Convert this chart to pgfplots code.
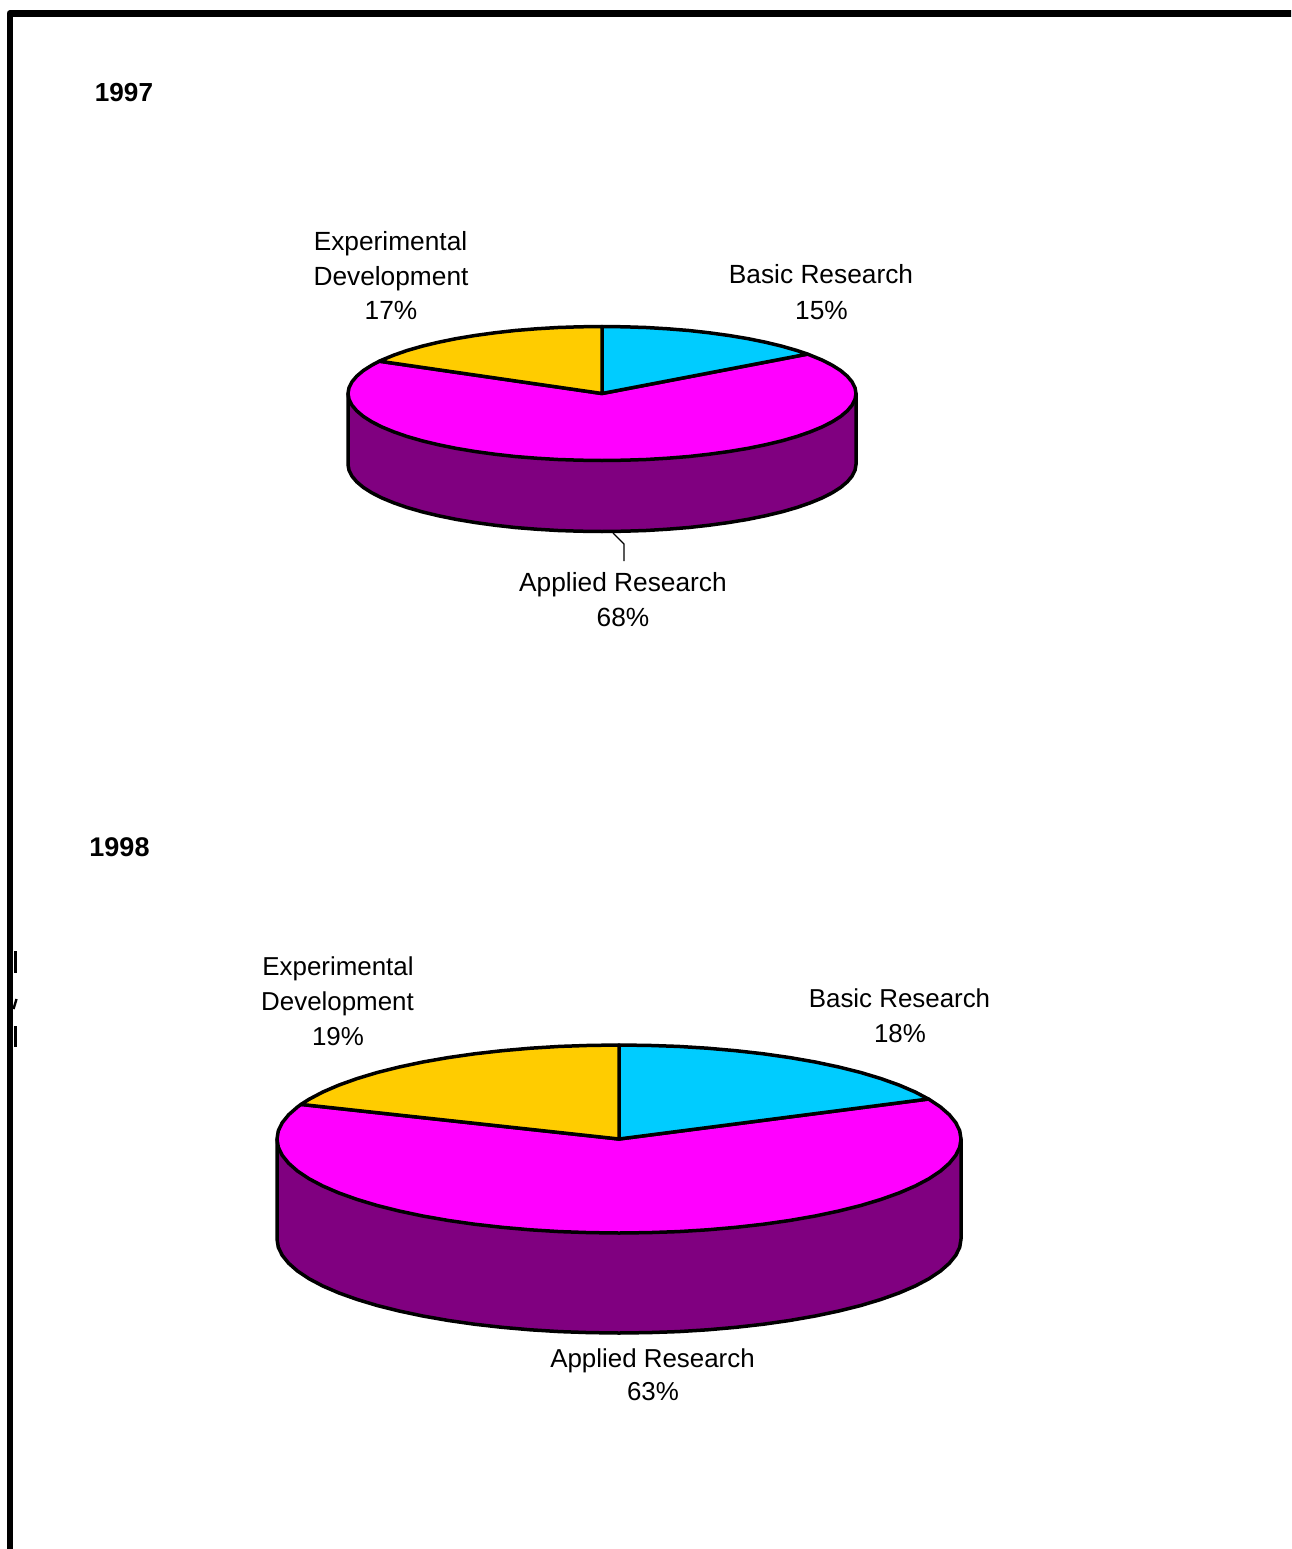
\documentclass[border=0pt]{standalone}
\usepackage{pgfplots}
\pgfplotsset{compat=1.18}
\usepackage{fontspec}
\setmainfont{Liberation Sans}
\definecolor{basic}{HTML}{00CCFF}
\definecolor{experimental}{HTML}{FFCC00}
\definecolor{applied}{HTML}{FF00FF}
\definecolor{wall}{HTML}{800080}
\newcommand{\lbl}[4]{\node[anchor=base,inner sep=0pt,font=\fontsize{#1}{#1}\selectfont] at (axis cs:#2,#3) {#4};}
\begin{document}
\begin{tikzpicture}
\path[use as bounding box,fill=white] (0,0) rectangle (1291pt,1549pt);
\begin{axis}[
  at={(0pt,0pt)},anchor=south west,
  scale only axis,width=1291pt,height=1549pt,
  xmin=0,xmax=1291,ymin=0,ymax=1549,y dir=reverse,
  hide axis,
  pie/.style={draw=black,line width=3.5pt,line join=round},
]
% page frame, running off the right and lower edges
\addplot[draw=black,line width=6.8pt,line join=round] coordinates {(10,1570) (10,13.5) (1310,13.5)};
% remains of clipped text beside the frame
\addplot[draw=black,line width=2.2pt] coordinates {(15.4,951) (15.4,973)};
\addplot[draw=black,line width=2.2pt] coordinates {(15.4,1026) (15.4,1047)};
\addplot[draw=black,line width=2.4pt] coordinates {(13.5,1009) (16.5,999)};

% 1997: Basic 15%, Applied 68%, Experimental 17%
\addplot[pie,fill=wall] coordinates {(348,393.5) (856,393.5) (856,464.5) (855,470.3) (852.1,476.1) (847.3,481.8) (840.7,487.4) (832.2,492.8) (822,498) (810.1,502.9) (796.6,507.6) (781.6,511.9) (765.3,515.8) (747.7,519.4) (729,522.5) (709.3,525.2) (688.9,527.5) (667.7,529.2) (646.1,530.5) (624.1,531.2) (602,531.5) (579.9,531.2) (557.9,530.5) (536.3,529.2) (515.1,527.5) (494.7,525.2) (475,522.5) (456.3,519.4) (438.7,515.8) (422.4,511.9) (407.4,507.6) (393.9,502.9) (382,498) (371.8,492.8) (363.3,487.4) (356.7,481.8) (351.9,476.1) (349,470.3) (348,464.5)} --cycle;
\addplot[pie,fill=applied] coordinates {(602,393.5) (807.5,354.1) (810.1,355.1) (822,360) (832.2,365.2) (840.7,370.6) (847.3,376.2) (852.1,381.9) (855,387.7) (856,393.5) (855,399.3) (852.1,405.1) (847.3,410.8) (840.7,416.4) (832.2,421.8) (822,427) (810.1,431.9) (796.6,436.6) (781.6,440.9) (765.3,444.8) (747.7,448.4) (729,451.5) (709.3,454.2) (688.9,456.5) (667.7,458.2) (646.1,459.5) (624.1,460.2) (602,460.5) (579.9,460.2) (557.9,459.5) (536.3,458.2) (515.1,456.5) (494.7,454.2) (475,451.5) (456.3,448.4) (438.7,444.8) (422.4,440.9) (407.4,436.6) (393.9,431.9) (382,427) (371.8,421.8) (363.3,416.4) (356.7,410.8) (351.9,405.1) (349,399.3) (348,393.5) (349,387.7) (351.9,381.9) (356.7,376.2) (363.3,370.6) (371.8,365.2) (379.4,361.2)} --cycle;
\addplot[pie,fill=basic] coordinates {(602,393.5) (602,326.5) (624.1,326.8) (646.1,327.5) (667.7,328.8) (688.9,330.5) (709.3,332.8) (729,335.5) (747.7,338.6) (765.3,342.2) (781.6,346.1) (796.6,350.4) (807.5,354.1)} --cycle;
\addplot[pie,fill=experimental] coordinates {(602,393.5) (379.4,361.2) (382,360) (393.9,355.1) (407.4,350.4) (422.4,346.1) (438.7,342.2) (456.3,338.6) (475,335.5) (494.7,332.8) (515.1,330.5) (536.3,328.8) (557.9,327.5) (579.9,326.8) (602,326.5)} --cycle;
% leader to the Applied Research label
\addplot[draw=black,line width=1.3pt] coordinates {(613,533) (624,544) (624,561)};

% 1998: Basic 18%, Applied 63%, Experimental 19%
\addplot[pie,fill=wall] coordinates {(277,1139) (961,1139) (961,1239) (959.7,1247.2) (955.8,1255.3) (949.3,1263.3) (940.4,1271.1) (929,1278.7) (915.2,1286) (899.2,1292.9) (881,1299.4) (860.8,1305.5) (838.8,1311) (815.2,1316) (790,1320.4) (763.5,1324.2) (736,1327.3) (707.5,1329.8) (678.4,1331.6) (648.8,1332.6) (619,1333) (589.2,1332.6) (559.6,1331.6) (530.5,1329.8) (502,1327.3) (474.5,1324.2) (448,1320.4) (422.8,1316) (399.2,1311) (377.2,1305.5) (357,1299.4) (338.8,1292.9) (322.8,1286) (309,1278.7) (297.6,1271.1) (288.7,1263.3) (282.2,1255.3) (278.3,1247.2) (277,1239)} --cycle;
\addplot[pie,fill=applied] coordinates {(619,1139) (928.4,1099) (929,1099.3) (940.4,1106.9) (949.3,1114.7) (955.8,1122.7) (959.7,1130.8) (961,1139) (959.7,1147.2) (955.8,1155.3) (949.3,1163.3) (940.4,1171.1) (929,1178.7) (915.2,1186) (899.2,1192.9) (881,1199.4) (860.8,1205.5) (838.8,1211) (815.2,1216) (790,1220.4) (763.5,1224.2) (736,1227.3) (707.5,1229.8) (678.4,1231.6) (648.8,1232.6) (619,1233) (589.2,1232.6) (559.6,1231.6) (530.5,1229.8) (502,1227.3) (474.5,1224.2) (448,1220.4) (422.8,1216) (399.2,1211) (377.2,1205.5) (357,1199.4) (338.8,1192.9) (322.8,1186) (309,1178.7) (297.6,1171.1) (288.7,1163.3) (282.2,1155.3) (278.3,1147.2) (277,1139) (278.3,1130.8) (282.2,1122.7) (288.7,1114.7) (297.6,1106.9) (301,1104.4)} --cycle;
\addplot[pie,fill=basic] coordinates {(619,1139) (619,1045) (648.8,1045.4) (678.4,1046.4) (707.5,1048.2) (736,1050.7) (763.5,1053.8) (790,1057.6) (815.2,1062) (838.8,1067) (860.8,1072.5) (881,1078.6) (899.2,1085.1) (915.2,1092) (928.4,1099)} --cycle;
\addplot[pie,fill=experimental] coordinates {(619,1139) (301,1104.4) (309,1099.3) (322.8,1092) (338.8,1085.1) (357,1078.6) (377.2,1072.5) (399.2,1067) (422.8,1062) (448,1057.6) (474.5,1053.8) (502,1050.7) (530.5,1048.2) (559.6,1046.4) (589.2,1045.4) (619,1045)} --cycle;

% headings
\lbl{26.1}{124}{102}{\bfseries 1997}
\lbl{27}{119.5}{856}{\bfseries 1998}
% labels, 1997
\lbl{26.3}{390.5}{250}{Experimental}
\lbl{26.3}{391}{285}{Development}
\lbl{26.3}{391}{319}{17\%}
\lbl{26.3}{821}{283}{Basic Research}
\lbl{26.3}{821.5}{319}{15\%}
\lbl{26.3}{623}{591}{Applied Research}
\lbl{26.3}{623}{626}{68\%}
% labels, 1998
\lbl{25.9}{338}{975}{Experimental}
\lbl{25.9}{337.5}{1010}{Development}
\lbl{25.9}{338}{1045}{19\%}
\lbl{25.9}{899.5}{1007}{Basic Research}
\lbl{25.9}{900}{1042}{18\%}
\lbl{25.9}{652.5}{1367}{Applied Research}
\lbl{25.9}{653}{1400}{63\%}
\end{axis}
\end{tikzpicture}
\end{document}
